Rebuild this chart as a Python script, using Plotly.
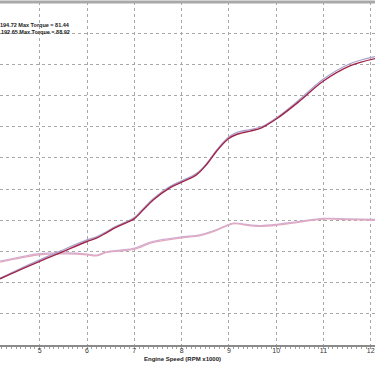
import plotly.graph_objects as go

# Engine speed (RPM x1000)
rpm_power = [4.16, 4.58, 5.0, 5.43, 6.0, 6.2, 6.4, 6.6, 6.8, 7.0, 7.2, 7.40, 7.75, 7.97, 8.32, 8.53, 8.74, 8.99, 9.16, 9.45, 9.69, 10.01, 10.47, 11.0, 11.56, 12.09]
power_a = [42.4, 48.2, 53.7, 59.1, 66.4, 68.5, 71.8, 75.3, 78.0, 81.0, 87.0, 93.0, 100.8, 104.0, 109.3, 115.8, 124.3, 132.3, 135.0, 137.2, 139.3, 145.1, 155.8, 169.3, 179.0, 183.7]
power_b = [42.8, 48.9, 54.6, 60.2, 67.4, 69.3, 72.5, 75.9, 78.6, 81.7, 87.8, 93.8, 101.6, 104.8, 110.2, 116.4, 125.0, 133.2, 136.2, 138.2, 140.0, 145.8, 156.8, 170.6, 180.4, 185.0]

rpm_torque = [4.16, 4.58, 5.0, 5.57, 6.0, 6.2, 6.42, 6.70, 7.01, 7.40, 7.97, 8.39, 8.70, 9.02, 9.12, 9.45, 9.66, 10.0, 10.47, 11.0, 11.56, 12.09]
torque_a = [53.2, 55.7, 57.9, 58.5, 57.9, 57.2, 59.4, 60.3, 61.5, 65.8, 68.6, 70.1, 73.0, 77.2, 77.8, 76.5, 76.1, 76.8, 78.7, 80.8, 80.4, 80.0]
torque_b = [53.8, 56.4, 58.6, 59.0, 58.3, 57.6, 59.8, 60.8, 62.2, 66.5, 69.2, 70.6, 73.5, 77.6, 78.2, 77.0, 76.6, 77.3, 79.2, 81.2, 80.9, 80.5]

x_ticks = [5, 6, 7, 8, 9, 10, 11, 12]
legend_lines = ["194.72 Max Torque = 81.44", "192.65 Max Torque = 88.92"]

fig = go.Figure()
fig.add_trace(go.Scatter(x=rpm_torque, y=torque_b, mode="lines", line=dict(color="#cfaed6", width=1.3, shape="spline")))
fig.add_trace(go.Scatter(x=rpm_torque, y=torque_a, mode="lines", line=dict(color="#e3a9bf", width=1.3, shape="spline")))
fig.add_trace(go.Scatter(x=rpm_power, y=power_b, mode="lines", line=dict(color="#a99fcc", width=1.3, shape="spline")))
fig.add_trace(go.Scatter(x=rpm_power, y=power_a, mode="lines", line=dict(color="#a02447", width=1.4, shape="spline")))

fig.update_layout(
    width=375, height=366,
    margin=dict(l=0, r=0, t=2, b=21),
    paper_bgcolor="white", plot_bgcolor="white",
    showlegend=False,
    xaxis=dict(range=[4.16, 12.09], tickvals=x_ticks, ticktext=[str(v) for v in x_ticks],
               showgrid=True, gridcolor="#a8a8a8", griddash="dot", gridwidth=1,
               showline=True, linecolor="#8a8a8a", linewidth=2,
               ticks="", ticklabelstandoff=-2,
               minor=dict(dtick=0.1, ticks="outside", ticklen=2, tickcolor="#a0a0a0", showgrid=False),
               tickfont=dict(family="Liberation Sans", size=7, color="#333333"),
               zeroline=False, fixedrange=True),
    yaxis=dict(range=[0, 220], dtick=20, showticklabels=False,
               showgrid=True, gridcolor="#a8a8a8", griddash="dot", gridwidth=1,
               showline=False, zeroline=False),
)

fig.add_shape(type="line", xref="paper", yref="paper", x0=0, x1=1, y0=1, y1=1,
              line=dict(color="#a8a8a8", width=3))

for i, txt in enumerate(legend_lines):
    fig.add_annotation(xref="paper", yref="paper", x=72 / 375, y=(345 - (25.5 + 6.5 * i)) / 343,
                       text="<b>" + txt + "</b>", showarrow=False, xanchor="right", yanchor="middle",
                       font=dict(family="Liberation Sans", size=5.5, color="#222222"))

fig.add_annotation(xref="paper", yref="paper", x=182 / 375, y=-14 / 343,
                   text="<b>Engine Speed (RPM x1000)</b>", showarrow=False,
                   xanchor="center", yanchor="middle",
                   font=dict(family="Liberation Sans", size=6, color="#222222"))

fig.write_html("out.html")
